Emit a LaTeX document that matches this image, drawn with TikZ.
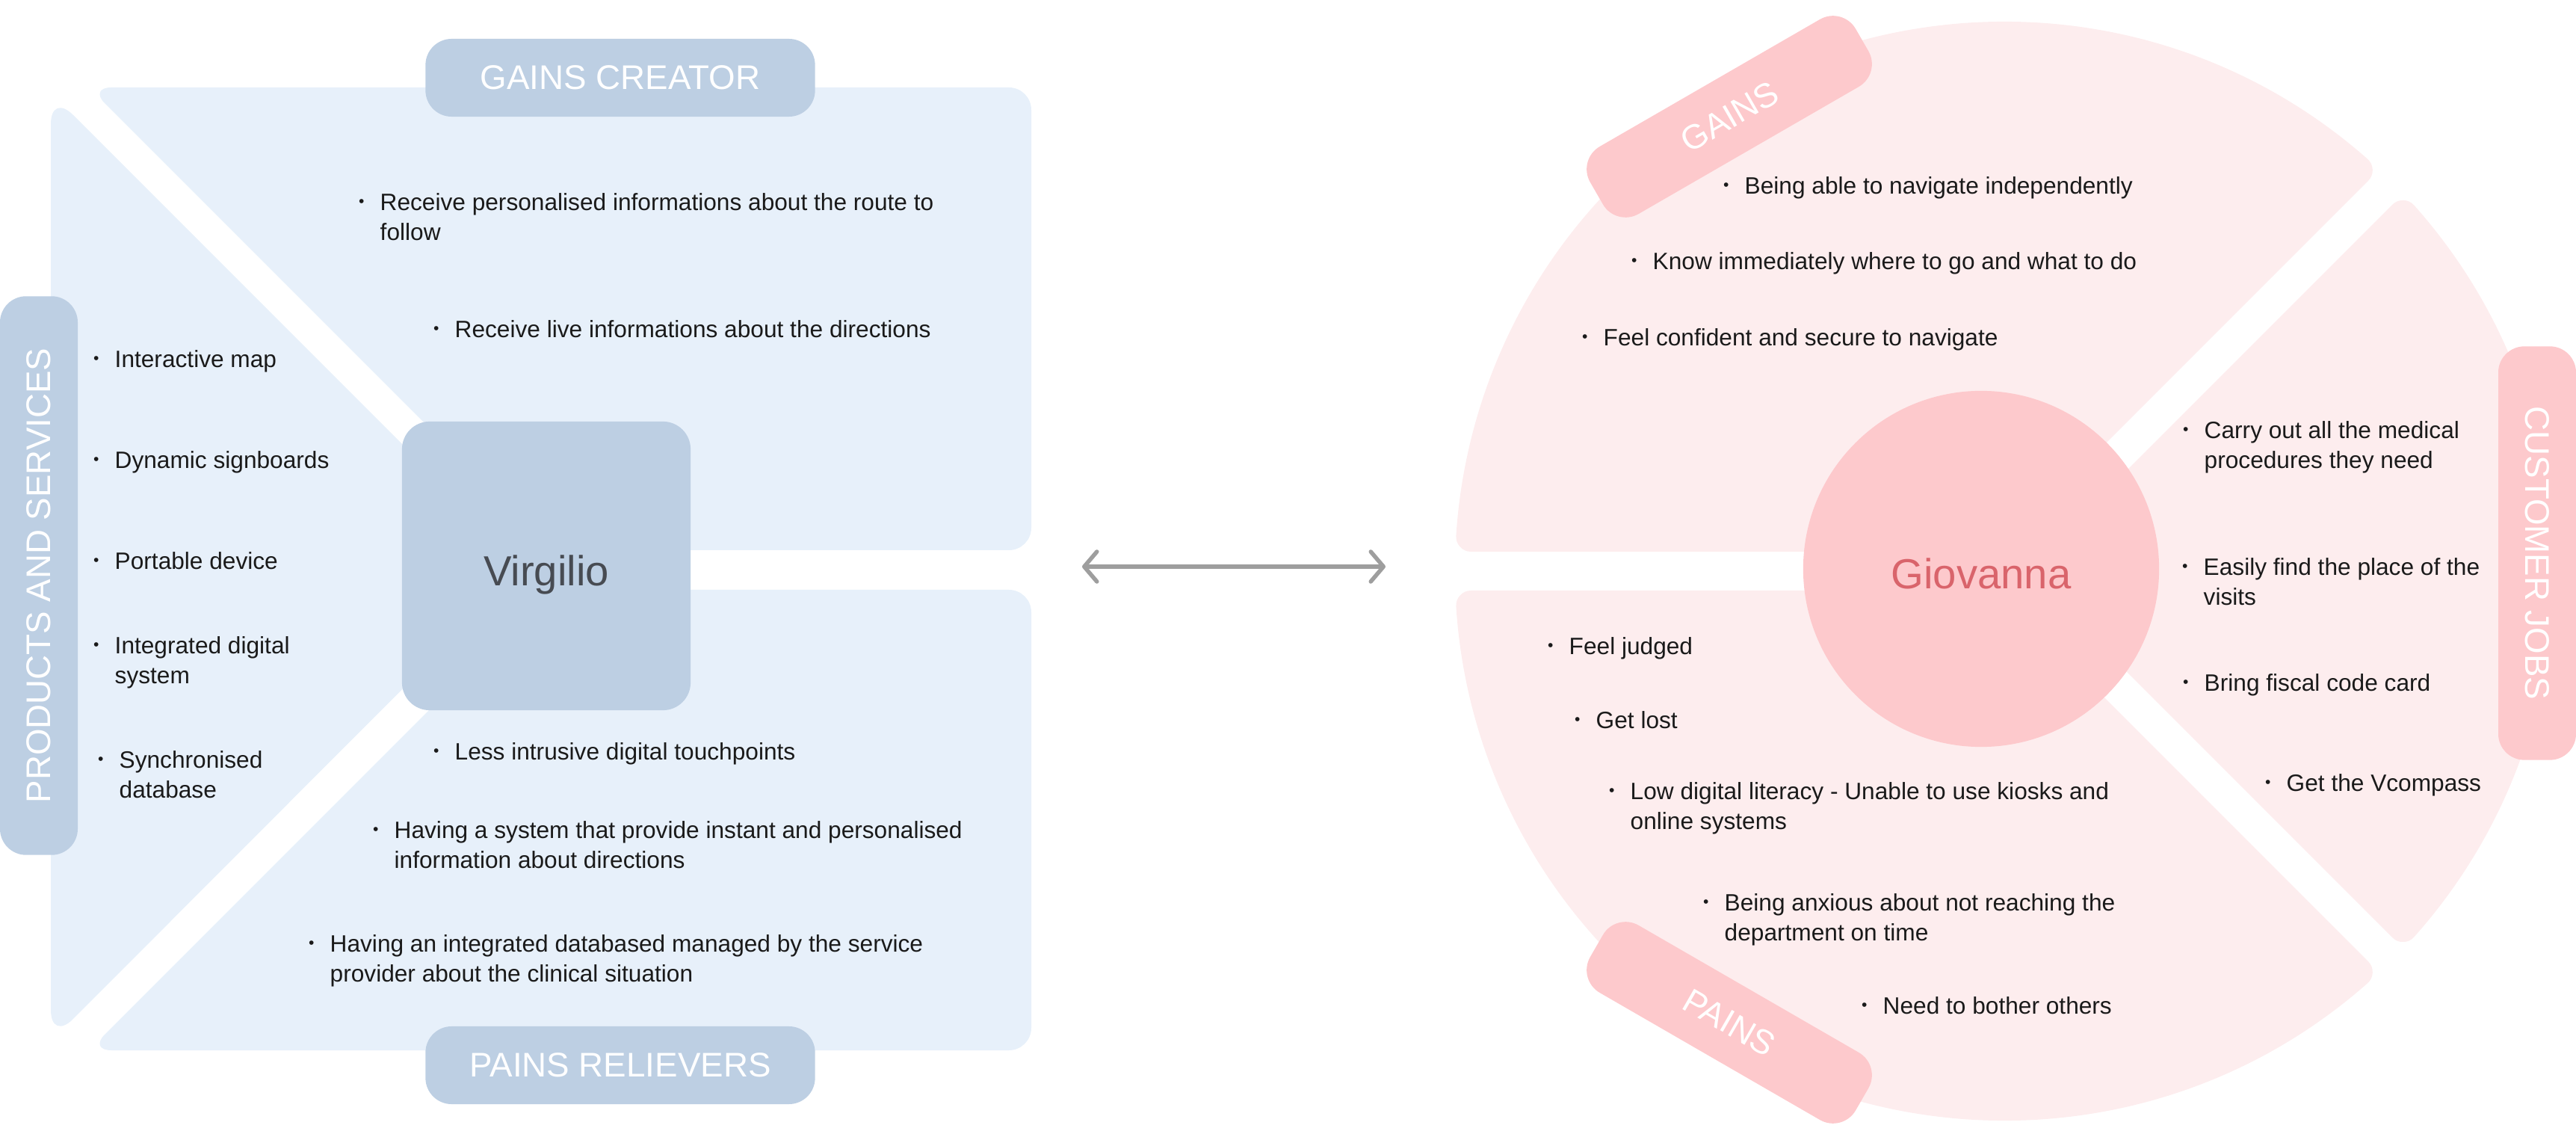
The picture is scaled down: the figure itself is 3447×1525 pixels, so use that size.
\documentclass[tikz,border=0pt]{standalone}
\usepackage{fontspec}
\setmainfont{Liberation Sans}
\usetikzlibrary{arrows.meta}
\definecolor{vpbg}{HTML}{E7F0FA}
\definecolor{vptag}{HTML}{BDCFE3}
\definecolor{vpink}{HTML}{474B52}
\definecolor{cpbg}{HTML}{FDEDEE}
\definecolor{cptag}{HTML}{FDC9CC}
\definecolor{cpink}{HTML}{D9646B}
\definecolor{ink}{HTML}{1A1A1A}
\definecolor{arrowgray}{HTML}{9E9E9E}
\tikzset{item/.style={anchor=west,align=left,inner sep=0pt,text=ink,font=\fontsize{9}{11.4}\selectfont},
  tag/.style={fill=#1,text=white,rounded corners=0.35cm,minimum height=1.04cm,inner sep=0pt,font=\fontsize{13}{13}\selectfont},
  core/.style={inner sep=0pt,text height=15pt,text depth=0pt,font=\fontsize{16}{16}\selectfont},
  blob/.style={fill=cpbg,draw=cpbg,line width=0.4cm,line join=round},
  twoway/.style={<->,>={Straight Barb[round,length=0.17cm,width=0.4cm]},line width=0.055cm,draw=arrowgray,line cap=round}}
\newcommand{\bul}{\llap{\raisebox{0.3ex}{\fontsize{6}{6}\selectfont\textbullet}\hspace{6pt}}}

\begin{document}
\begin{tikzpicture}[x=0.01cm,y=0.01cm]
\useasboundingbox (0,0) rectangle (3447,-1525);
% value map
\fill[vpbg,rounded corners=0.42cm] (68,-124) -- (702,-758) -- (68,-1393) -- cycle;
\fill[vpbg,rounded corners=0.3cm] (119,-117) -- (1380,-117) -- (1380,-736) -- (738,-736) -- cycle;
\fill[vpbg,rounded corners=0.3cm] (735,-789) -- (1380,-789) -- (1380,-1405) -- (119,-1405) -- cycle;
\node[core,fill=vptag,text=vpink,rounded corners=0.37cm,minimum size=3.86cm] (virgilio) at (731,-757) {Virgilio};
\node[tag=vptag,minimum width=5.21cm] (gainsc) at (830,-104) {GAINS CREATOR};
\node[tag=vptag,minimum width=5.21cm] (painsr) at (830,-1425) {PAINS RELIEVERS};
\node[tag=vptag,minimum width=7.47cm,rotate=90] (prodserv) at (52,-770) {PRODUCTS AND SERVICES};
\foreach \px/\py/\txt [count=\i] in {508/290/{Receive personalised informations about the route to\\follow},
  608/440/{Receive live informations about the directions},
  153/483/{Interactive map}, 153/618/{Dynamic signboards}, 153/750/{Portable device},
  153/886/{Integrated digital\\system}, 159/1036/{Synchronised\\database},
  608/1008/{Less intrusive digital touchpoints},
  527/1130/{Having a system that provide instant and personalised\\information about directions},
  441/1285/{Having an integrated databased managed by the service\\provider about the clinical situation}}
  \node[item] (vp\i) at (\px,-\py) {\bul\txt};
% customer profile
\fill[blob] (1968.5,-718) -- (2664.7,-718) -- (3154.8,-227.7) arc[start angle=48.59,end angle=176.31,radius=715] -- cycle;
\fill[blob] (1968.5,-810) -- (2664.7,-810) -- (3154.8,-1300.3) arc[start angle=-48.59,end angle=-176.31,radius=715] -- cycle;
\fill[blob] (2739.3,-764) -- (3215.4,-287.9) arc[start angle=41.75,end angle=-41.75,radius=715] -- cycle;
\node[core,circle,fill=cptag,text=cpink,minimum size=4.76cm] (giovanna) at (2651,-761) {Giovanna};
\node[tag=cptag,minimum width=4.1cm,rotate=30] (gains) at (2314,-156) {GAINS};
\node[tag=cptag,minimum width=4.1cm,rotate=-30] (pains) at (2314,-1368) {PAINS};
\node[tag=cptag,minimum width=5.53cm,rotate=-90] (jobs) at (3395,-740) {CUSTOMER JOBS};
\foreach \px/\py/\txt [count=\i] in {2334/251/{Being able to navigate independently},
  2211/352/{Know immediately where to go and what to do},
  2145/454/{Feel confident and secure to navigate},
  2949/598/{Carry out all the medical\\procedures they need},
  2948/778/{Easily find the place of the\\visits},
  2949/916/{Bring fiscal code card}, 3059/1050/{Get the Vcompass},
  2099/867/{Feel judged}, 2135/963/{Get lost},
  2181/1081/{Low digital literacy - Unable to use kiosks and\\online systems},
  2307/1230/{Being anxious about not reaching the\\department on time},
  2519/1345/{Need to bother others}}
  \node[item] (cp\i) at (\px,-\py) {\bul\txt};
\coordinate (arrL) at (1448,-758);
\coordinate (arrR) at (1854,-758);
\draw[twoway] (arrL) -- (arrR);
\end{tikzpicture}
\end{document}
